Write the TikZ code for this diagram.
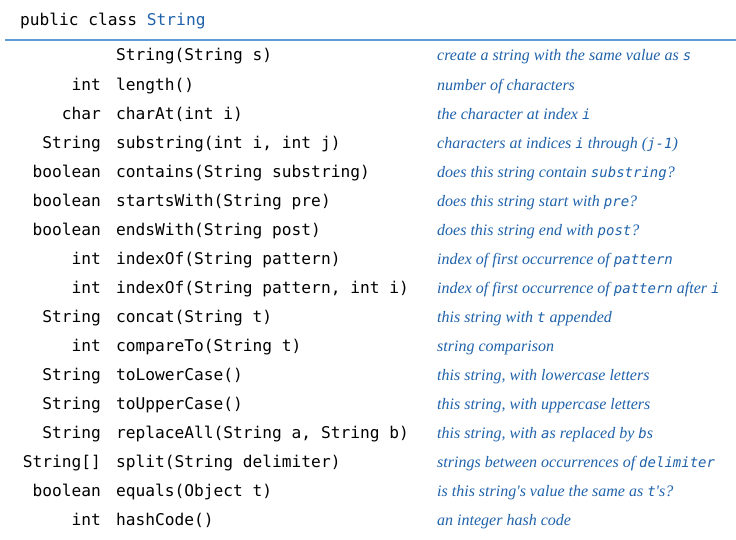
\documentclass[tikz,border=0pt]{standalone}
\usepackage{fontspec}
\setmonofont{DejaVu Sans Mono}
\newfontfamily\descfont{Liberation Serif}
\usepackage{xcolor}
\usepackage{tikz}
\definecolor{apiblue}{HTML}{1F62AA}
\definecolor{ruleblue}{HTML}{5E9CD3}
\newcommand{\code}[1]{{\fontsize{14}{14}\ttfamily #1}}
\tikzset{every node/.style={inner sep=0pt, anchor=base}}
\tikzstyle{rettype} = [anchor=base east, font=\fontsize{16.2}{17}\ttfamily]
\tikzstyle{method} = [anchor=base west, font=\fontsize{16.2}{17}\ttfamily]
\tikzstyle{descr} = [anchor=base west, text=apiblue, font=\fontsize{16}{17}\descfont\itshape]

\begin{document}
\begin{tikzpicture}[x=1pt, y=-1pt]
    \useasboundingbox (0,0) rectangle (736,540);
    \node (head) [method] at (20,26) {public class \textcolor{apiblue}{String}};
    \draw [ruleblue, line width=1.2pt] (5,40) -- (736,40);
    \foreach \t/\m/\d [count=\i from 0] in {
        {}/{String(String s)}/{create a string with the same value as \code{s}},
        {int}/{length()}/{number of characters},
        {char}/{charAt(int i)}/{the character at index \code{i}},
        {String}/{substring(int i, int j)}/{characters at indices \code{i} through (\code{j-1})},
        {boolean}/{contains(String substring)}/{does this string contain \code{substring}?},
        {boolean}/{startsWith(String pre)}/{does this string start with \code{pre}?},
        {boolean}/{endsWith(String post)}/{does this string end with \code{post}?},
        {int}/{indexOf(String pattern)}/{index of first occurrence of \code{pattern}},
        {int}/{indexOf(String pattern, int i)}/{index of first occurrence of \code{pattern} after \code{i}},
        {String}/{concat(String t)}/{this string with \code{t} appended},
        {int}/{compareTo(String t)}/{string comparison},
        {String}/{toLowerCase()}/{this string, with lowercase letters},
        {String}/{toUpperCase()}/{this string, with uppercase letters},
        {String}/{replaceAll(String a, String b)}/{this string, with \code{a}s replaced by \code{b}s},
        {String[]}/{split(String delimiter)}/{strings between occurrences of \code{delimiter}},
        {boolean}/{equals(Object t)}/{is this string's value the same as \code{t}'s?},
        {int}/{hashCode()}/{an integer hash code}} {
        \node (t\i) [rettype] at (101, 61+29.06*\i) {\t};
        \node (m\i) [method] at (116, 61+29.06*\i) {\m};
        \node (d\i) [descr] at (437, 61+29.06*\i) {\d};
    }
\end{tikzpicture}
\end{document}
